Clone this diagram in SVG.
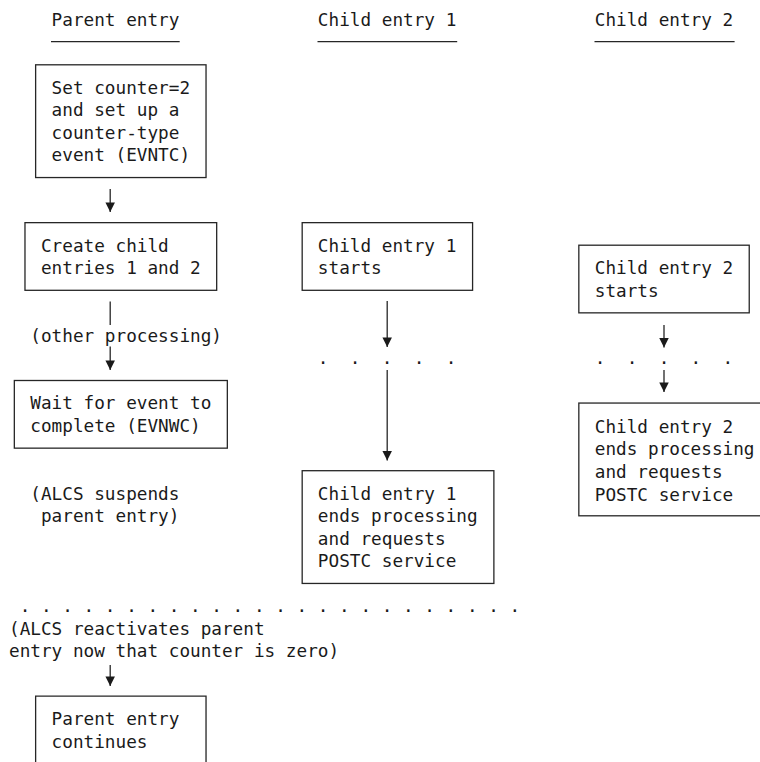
<svg xmlns="http://www.w3.org/2000/svg" width="760" height="762" viewBox="0 0 760 762">
  <style>
    text { font-family: "DejaVu Sans Mono", "Liberation Mono", monospace; font-size: 17.7px; fill: #1a1a1a; white-space: pre; }
    .box { fill: none; stroke: #262626; stroke-width: 1.3; }
    .ln { fill: none; stroke: #262626; stroke-width: 1.3; }
    .arr { fill: none; stroke: #262626; stroke-width: 1.3; marker-end: url(#ah); }
  </style>
  <defs>
    <marker id="ah" viewBox="0 0 10 10" refX="10" refY="5" markerUnits="userSpaceOnUse" markerWidth="10" markerHeight="9.5" orient="auto">
      <path d="M0,0 L10,5 L0,10 z" fill="#1a1a1a"/>
    </marker>
  </defs>
  <rect width="760" height="762" fill="#ffffff"/>

  <g id="headers">
    <text x="51.6" y="26">Parent entry</text>
    <line class="ln" x1="51" y1="41.7" x2="179.7" y2="41.7"/>
    <text x="317.85" y="26">Child entry 1</text>
    <line class="ln" x1="317.5" y1="41.7" x2="457.2" y2="41.7"/>
    <text x="594.75" y="26">Child entry 2</text>
    <line class="ln" x1="594.5" y1="41.7" x2="734.6" y2="41.7"/>
  </g>

  <g id="connectors">
    <line class="arr" x1="110.2" y1="189" x2="110.2" y2="212"/>
    <line class="ln" x1="110.2" y1="301.5" x2="110.2" y2="325"/>
    <line class="arr" x1="110.2" y1="346.5" x2="110.2" y2="370"/>
    <line class="arr" x1="387.2" y1="301" x2="387.2" y2="347"/>
    <line class="arr" x1="387.2" y1="370" x2="387.2" y2="460.5"/>
    <line class="arr" x1="664" y1="325" x2="664" y2="347.5"/>
    <line class="arr" x1="664" y1="370" x2="664" y2="392"/>
    <line class="arr" x1="110.2" y1="665" x2="110.2" y2="686"/>
  </g>

  <g id="n-set-counter">
    <rect class="box" x="35.63" y="64.8" width="170.4" height="112.75"/>
    <text x="51.6" y="93.65">Set counter=2</text>
    <text x="51.6" y="116.2">and set up a</text>
    <text x="51.6" y="138.75">counter-type</text>
    <text x="51.6" y="161.3">event (EVNTC)</text>
  </g>

  <g id="n-create-children">
    <rect class="box" x="24.98" y="222.65" width="191.7" height="67.65"/>
    <text x="40.95" y="251.5">Create child</text>
    <text x="40.95" y="274.05">entries 1 and 2</text>
  </g>

  <g id="n-other-processing">
    <text x="30.3" y="341.7">(other processing)</text>
  </g>

  <g id="n-wait">
    <rect class="box" x="14.33" y="380.5" width="213" height="67.65"/>
    <text x="30.3" y="409.35">Wait for event to</text>
    <text x="30.3" y="431.9">complete (EVNWC)</text>
  </g>

  <g id="n-suspends">
    <text x="30.3" y="499.55">(ALCS suspends</text>
    <text x="30.3" y="522.1"> parent entry)</text>
  </g>

  <g id="n-child1-starts">
    <rect class="box" x="302.18" y="222.65" width="170.4" height="67.65"/>
    <text x="317.85" y="251.5">Child entry 1</text>
    <text x="317.85" y="274.05">starts</text>
  </g>

  <g id="n-child1-dots">
    <text x="317.85" y="364.25">.  .  .  .  .</text>
  </g>

  <g id="n-child1-ends">
    <rect class="box" x="302.18" y="470.7" width="191.7" height="112.75"/>
    <text x="317.85" y="499.55">Child entry 1</text>
    <text x="317.85" y="522.1">ends processing</text>
    <text x="317.85" y="544.65">and requests</text>
    <text x="317.85" y="567.2">POSTC service</text>
  </g>

  <g id="n-child2-starts">
    <rect class="box" x="578.83" y="245.2" width="170.4" height="67.65"/>
    <text x="594.75" y="274.05">Child entry 2</text>
    <text x="594.75" y="296.6">starts</text>
  </g>

  <g id="n-child2-dots">
    <text x="594.75" y="364.25">.  .  .  .  .</text>
  </g>

  <g id="n-child2-ends">
    <rect class="box" x="578.83" y="403.05" width="191.7" height="112.75"/>
    <text x="594.75" y="432.9">Child entry 2</text>
    <text x="594.75" y="455.45">ends processing</text>
    <text x="594.75" y="478">and requests</text>
    <text x="594.75" y="500.55">POSTC service</text>
  </g>

  <g id="n-reactivate">
    <text x="19.65" y="612.3">. . . . . . . . . . . . . . . . . . . . . . . .</text>
    <text x="9" y="634.85">(ALCS reactivates parent</text>
    <text x="9" y="657.4">entry now that counter is zero)</text>
  </g>

  <g id="n-parent-continues">
    <path class="box" d="M35.63,770 V696.2 H206.03 V770"/>
    <text x="51.6" y="725.05">Parent entry</text>
    <text x="51.6" y="747.6">continues</text>
  </g>
</svg>
